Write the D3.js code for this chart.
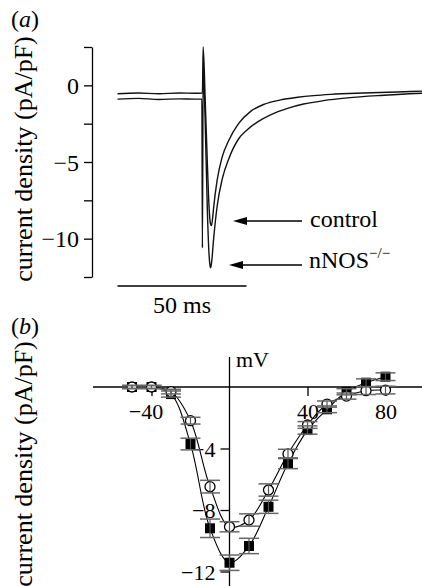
<!DOCTYPE html>
<html>
<head>
<meta charset="utf-8"/>
<title>current density</title>
<script src="https://d3js.org/d3.v7.min.js"></script>
<style>
  html, body { margin: 0; padding: 0; background: #fff; }
  svg { display: block; }
  text { font-family: "Liberation Serif", "Times New Roman", serif; fill: #000; }
</style>
</head>
<body>
<div id="chart"></div>
<script>
// (a) current traces, time in ms, current density in pA/pF
const controlTime = [0, 8, 16, 24, 30, 32.9, 33.2, 34.0, 34.8, 35.5, 36.0, 36.4, 36.9, 37.3, 38.6, 40.6, 43.1, 46.9, 51.6, 56.6, 63.2, 69.8, 76.0, 82.6, 95.3, 108.5, 118];
const controlCurrent = [-0.55, -0.5, -0.55, -0.5, -0.52, -0.5, 2.5, -1.0, -5.0, -8.0, -9.0, -9.15, -8.6, -7.9, -6.2, -4.65, -3.6, -2.5, -1.7, -1.25, -0.95, -0.78, -0.67, -0.59, -0.5, -0.43, -0.38];
const nnosTime = [0, 8, 16, 24, 30, 32.7, 32.9, 33.2, 34.0, 34.8, 35.4, 35.9, 36.1, 36.5, 37.2, 38.6, 40.6, 43.1, 46.9, 50.4, 54.3, 59.3, 65.9, 72.1, 79.8, 89.1, 101.9, 118];
const nnosCurrent = [-0.9, -0.85, -0.92, -0.88, -0.9, -0.9, -10.6, 1.2, -2.5, -8.0, -10.8, -11.8, -11.9, -11.5, -10.1, -7.9, -6.1, -4.8, -3.5, -2.88, -2.38, -1.92, -1.5, -1.22, -1.0, -0.82, -0.66, -0.52];
const ticksA = [2.5, 0, -2.5, -5, -7.5, -10, -12.5];
const labelsA = [0, -5, -10];

// (b) I-V relation
const voltages = [-50, -40, -30, -20, -10, 0, 10, 20, 30, 40, 50, 60, 70, 80];
const controlIV = [0, 0, -0.3, -2.19, -6.48, -9.09, -8.65, -6.7, -4.35, -2.47, -1.11, -0.59, -0.24, -0.2];
const controlErr = [0.1, 0.1, 0.15, 0.22, 0.41, 0.33, 0.4, 0.4, 0.3, 0.22, 0.2, 0.2, 0.25, 0.25];
const nnosIV = [0, 0, -0.46, -3.71, -9.19, -11.43, -10.34, -7.79, -4.96, -2.8, -1.45, -0.31, 0.28, 0.67];
const nnosErr = [0.1, 0.1, 0.2, 0.38, 0.6, 0.5, 0.5, 0.43, 0.35, 0.27, 0.22, 0.2, 0.25, 0.25];
const ticksBx = [-40, 40, 80];
const ticksBy = [-4, -8, -12];

const W = 422, H = 586;
const svg = d3.select('#chart').append('svg').attr('width', W).attr('height', H);
const minus = d => (d < 0 ? '\u2212' + Math.abs(d) : String(d));

// ---------- panel (a) ----------
const xA = d3.scaleLinear().domain([0, 118]).range([117.5, 422]);
const yA = d3.scaleLinear().domain([2.5, -12.5]).range([47, 277]);

const gA = svg.append('g');
const panelA = svg.append('text').attr('x', 11).attr('y', 27).style('font-size', '24px');
panelA.append('tspan').text('(');
panelA.append('tspan').style('font-style', 'italic').text('a');
panelA.append('tspan').text(')');

const axA = gA.append('g').attr('transform', 'translate(92,0)')
  .call(d3.axisLeft(yA).tickValues(ticksA).tickSize(8).tickSizeOuter(0).tickPadding(5)
    .tickFormat(d => labelsA.includes(d) ? minus(d) : ''));
axA.select('.domain').attr('stroke-width', 1.3);
axA.selectAll('.tick line').attr('stroke-width', 1.3);
axA.selectAll('.tick text').style('font-size', '24px').style('font-family', '"Liberation Serif", serif').attr('dy', '0.34em');

svg.append('text')
  .attr('transform', 'translate(32,159) rotate(-90)')
  .attr('text-anchor', 'middle').style('font-size', '26px')
  .text('current density (pA/pF)');

const traceLine = d3.line().x(d => xA(d[0])).y(d => yA(d[1])).curve(d3.curveMonotoneX);
gA.append('path').datum(nnosTime.map((t, i) => [t, nnosCurrent[i]]))
  .attr('d', traceLine).attr('fill', 'none').attr('stroke', '#111').attr('stroke-width', 1.4);
gA.append('path').datum(controlTime.map((t, i) => [t, controlCurrent[i]]))
  .attr('d', traceLine).attr('fill', 'none').attr('stroke', '#111').attr('stroke-width', 1.4);

// scale bar
gA.append('line').attr('x1', xA(0)).attr('x2', xA(50)).attr('y1', 286).attr('y2', 286)
  .attr('stroke', '#000').attr('stroke-width', 1.3);
gA.append('text').attr('x', xA(25)).attr('y', 313).attr('text-anchor', 'middle')
  .style('font-size', '24px').text('50 ms');

// arrows and labels
function arrow(x0, x1, y) {
  gA.append('line').attr('x1', x0 + 12).attr('x2', x1).attr('y1', y).attr('y2', y)
    .attr('stroke', '#000').attr('stroke-width', 1.3);
  gA.append('path').attr('d', `M${x0},${y}L${x0 + 14},${y - 4}L${x0 + 14},${y + 4}Z`).attr('fill', '#000');
}
arrow(233, 302, 221);
arrow(229, 302, 265);
gA.append('text').attr('x', 310).attr('y', 227).style('font-size', '24px').text('control');
const nl = gA.append('text').attr('x', 309).attr('y', 268).style('font-size', '24px');
nl.append('tspan').text('nNOS');
nl.append('tspan').attr('dy', -10).style('font-size', '15px').text('\u2212/\u2212');

// ---------- panel (b) ----------
const xB = d3.scaleLinear().domain([-40, 80]).range([151.5, 385.5]);
const yB = d3.scaleLinear().domain([0, -12]).range([387, 571.5]);
const gB = svg.append('g');

const panelB = svg.append('text').attr('x', 11).attr('y', 334).style('font-size', '24px');
panelB.append('tspan').text('(');
panelB.append('tspan').style('font-style', 'italic').text('b');
panelB.append('tspan').text(')');

svg.append('text')
  .attr('transform', 'translate(32,464) rotate(-90)')
  .attr('text-anchor', 'middle').style('font-size', '26px')
  .text('current density (pA/pF)');

// axes crossing at origin
gB.append('line').attr('x1', 93).attr('x2', 422).attr('y1', yB(0)).attr('y2', yB(0))
  .attr('stroke', '#000').attr('stroke-width', 1.3);
gB.append('line').attr('x1', xB(0)).attr('x2', xB(0)).attr('y1', 357).attr('y2', 586)
  .attr('stroke', '#000').attr('stroke-width', 1.3);

const axBx = gB.append('g').attr('transform', `translate(0,${yB(0)})`)
  .call(d3.axisBottom(xB).tickValues(ticksBx).tickSize(9).tickSizeOuter(0).tickFormat(minus));
axBx.select('.domain').remove();
axBx.selectAll('.tick line').attr('stroke-width', 1.3);
axBx.selectAll('.tick text').style('font-size', '22px').style('font-family', '"Liberation Serif", serif')
  .attr('y', 32).attr('dy', 0).attr('dx', d => d < 0 ? -6 : 0);

const axBy = gB.append('g').attr('transform', `translate(${xB(0)},0)`)
  .call(d3.axisLeft(yB).tickValues(ticksBy).tickSize(9).tickSizeOuter(0).tickPadding(5).tickFormat(minus));
axBy.select('.domain').remove();
axBy.selectAll('.tick line').attr('stroke-width', 1.3);
axBy.selectAll('.tick text').style('font-size', '22px').style('font-family', '"Liberation Serif", serif').attr('dy', '0.36em');

gB.append('text').attr('x', 236).attr('y', 367).style('font-size', '22px').text('mV');

// fitted curves through means
const fitLine = d3.line().x(d => xB(d[0])).y(d => yB(d[1])).curve(d3.curveCatmullRom.alpha(0.5));
const ctrlPts = voltages.map((v, i) => [v, controlIV[i]]);
const nnosPts = voltages.map((v, i) => [v, nnosIV[i]]);
gB.append('path').datum(ctrlPts.slice(1)).attr('d', fitLine).attr('fill', 'none').attr('stroke', '#000').attr('stroke-width', 1.1);
gB.append('path').datum(nnosPts.slice(1)).attr('d', fitLine).attr('fill', 'none').attr('stroke', '#000').attr('stroke-width', 1.1);

// markers
gB.selectAll('.sq').data(nnosPts).enter().append('rect')
  .attr('x', d => xB(d[0]) - 5).attr('y', d => yB(d[1]) - 5)
  .attr('width', 10).attr('height', 10).attr('fill', '#000');
gB.selectAll('.ci').data(ctrlPts).enter().append('circle')
  .attr('cx', d => xB(d[0])).attr('cy', d => yB(d[1])).attr('r', 5)
  .attr('fill', '#fff').attr('stroke', '#000').attr('stroke-width', 1.3);

// error bars
function errBars(means, errs) {
  voltages.forEach((v, i) => {
    const x = xB(v), lo = yB(means[i] - errs[i]), hi = yB(means[i] + errs[i]);
    gB.append('line').attr('x1', x).attr('x2', x).attr('y1', lo).attr('y2', hi)
      .attr('stroke', '#555').attr('stroke-width', 1.2);
    [lo, hi].forEach(y => gB.append('line').attr('x1', x - 10).attr('x2', x + 10)
      .attr('y1', y).attr('y2', y).attr('stroke', '#666').attr('stroke-width', 1.5));
  });
}
errBars(controlIV, controlErr);
errBars(nnosIV, nnosErr);
</script>
</body>
</html>
